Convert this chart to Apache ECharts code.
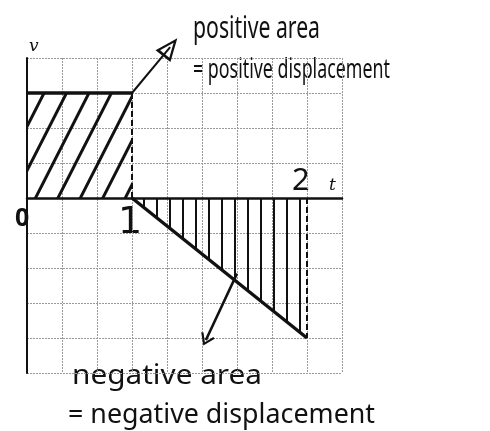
<!DOCTYPE html>
<html><head><meta charset="utf-8">
<script src="https://cdn.jsdelivr.net/npm/echarts@6/dist/echarts.min.js"></script>
<style>html,body{margin:0;background:#fff}#c{width:490px;height:431px}</style>
</head><body><div id="c"></div>
<script>
// Sketch units: one grid cell per step on both axes.
const tickCells = [0, 3, 8];          // where t = 0, 1, 2 fall on the sketch
const tickLabels = ['0', '1', '2'];
const positiveT = [0, 3];             // constant velocity segment
const positiveV = [3, 3];
const negativeT = [3, 8];             // decreasing velocity segment
const negativeV = [0, -4];
const calloutPos = [[3, 3], [4.09, 4.31]];      // arrow to the positive caption
const calloutNeg = [[6.0, -2.16], [5.11, -4.06]]; // arrow to the negative caption

const pair = (a, b) => a.map((x, i) => [x, b[i]]);
const ink = '#111';
const hand = '"Noto Sans", sans-serif';

const openTri = 'path://M5,0 L10,10 L0,10 Z M5,2.6 L1.9,8.8 L8.1,8.8 Z';
const chevron = 'path://M5,0 L10,9 L8.6,9.8 L5,3 L1.4,9.8 L0,9 Z';

const chart = echarts.init(document.getElementById('c'));

// captions: size the text so each line spans its own width
const measure = (text, font) => {
  const ctx = document.createElement('canvas').getContext('2d');
  ctx.font = font;
  return ctx.measureText(text).width;
};
const caption = (text, x, y, size, width) => {
  const font = size + 'px ' + hand;
  return {
    type: 'text', x: x, y: y, scaleX: width / measure(text, font),
    style: { text: text, font: font, fill: ink, verticalAlign: 'bottom' }
  };
};

chart.setOption({
  animation: false,
  grid: { left: 27, right: 148, top: 58, bottom: 58 },
  xAxis: {
    type: 'value', min: 0, max: 9, interval: 1,
    axisLine: { onZero: true, lineStyle: { color: ink, width: 2.5 } },
    axisTick: { show: false }, axisLabel: { show: false },
    splitLine: { lineStyle: { color: '#9a9a9a', width: 1, type: [2, 1] } }
  },
  yAxis: {
    type: 'value', min: -5, max: 4, interval: 1,
    axisLine: { show: true, lineStyle: { color: ink, width: 2 } },
    axisTick: { show: false }, axisLabel: { show: false },
    splitLine: { lineStyle: { color: '#9a9a9a', width: 1, type: [2, 1] } }
  },
  series: [
    {
      type: 'line', data: pair(positiveT, positiveV), symbol: 'none',
      lineStyle: { color: ink, width: 3.5 },
      itemStyle: {
        color: ink,
        decal: { symbol: 'rect', color: ink, dashArrayX: [1, 0], dashArrayY: [2.5, 17], rotation: -63 * Math.PI / 180 }
      },
      areaStyle: { color: 'rgba(255,255,255,0)', opacity: 1 },
      z: 3
    },
    {
      type: 'line', data: pair(negativeT, negativeV), symbol: 'none',
      lineStyle: { color: ink, width: 3.5 },
      itemStyle: {
        color: ink,
        decal: { symbol: 'rect', color: ink, dashArrayX: [2, 11], dashArrayY: [1, 0] }
      },
      areaStyle: { color: 'rgba(255,255,255,0)', opacity: 1 },
      z: 3
    },
    {
      type: 'line', data: [[positiveT[1], positiveV[1]], [positiveT[1], 0]], symbol: 'none',
      lineStyle: { color: ink, width: 2, type: [6, 3] }, z: 3
    },
    {
      type: 'line', data: [[negativeT[1], 0], [negativeT[1], negativeV[1]]], symbol: 'none',
      lineStyle: { color: ink, width: 2, type: [6, 3] }, z: 3
    },
    {
      type: 'line', clip: false, showSymbol: true, z: 4,
      lineStyle: { color: ink, width: 2 },
      itemStyle: { color: ink, borderWidth: 0 },
      data: [
        { value: calloutPos[0], symbol: 'none' },
        { value: calloutPos[1], symbol: openTri, symbolSize: [19, 23], symbolRotate: -38.5 }
      ]
    },
    {
      type: 'line', data: [], z: 4,
      markLine: {
        silent: true, symbol: ['none', chevron], symbolSize: [15, 12],
        label: { show: false },
        lineStyle: { color: ink, width: 2.5, type: 'solid', curveness: -0.3 },
        data: [[{ coord: calloutNeg[0] }, { coord: calloutNeg[1] }]]
      }
    }
  ],
  graphic: [
    caption('positive area', 193, 44, 30, 127),
    caption('= positive displacement', 193, 84, 28, 197),
    caption('negative area', 72, 390, 28, 190),
    caption('= negative displacement', 68, 429, 28, 307),
    { type: 'text', x: 29, y: 38, style: { text: 'v', font: 'italic 17px "DejaVu Serif", serif', fill: ink } },
    { type: 'text', x: 329, y: 177, style: { text: 't', font: 'italic 17px "DejaVu Serif", serif', fill: ink } },
    { type: 'text', x: 15, y: 206, style: { text: tickLabels[0], font: 'bold 25px ' + hand, fill: ink } },
    { type: 'text', x: 118, y: 204, style: { text: tickLabels[1], font: '38px "DejaVu Sans", sans-serif', fill: ink } },
    { type: 'text', x: 292, y: 166, style: { text: tickLabels[2], font: '31px ' + hand, fill: ink } }
  ]
});
</script>
</body></html>
